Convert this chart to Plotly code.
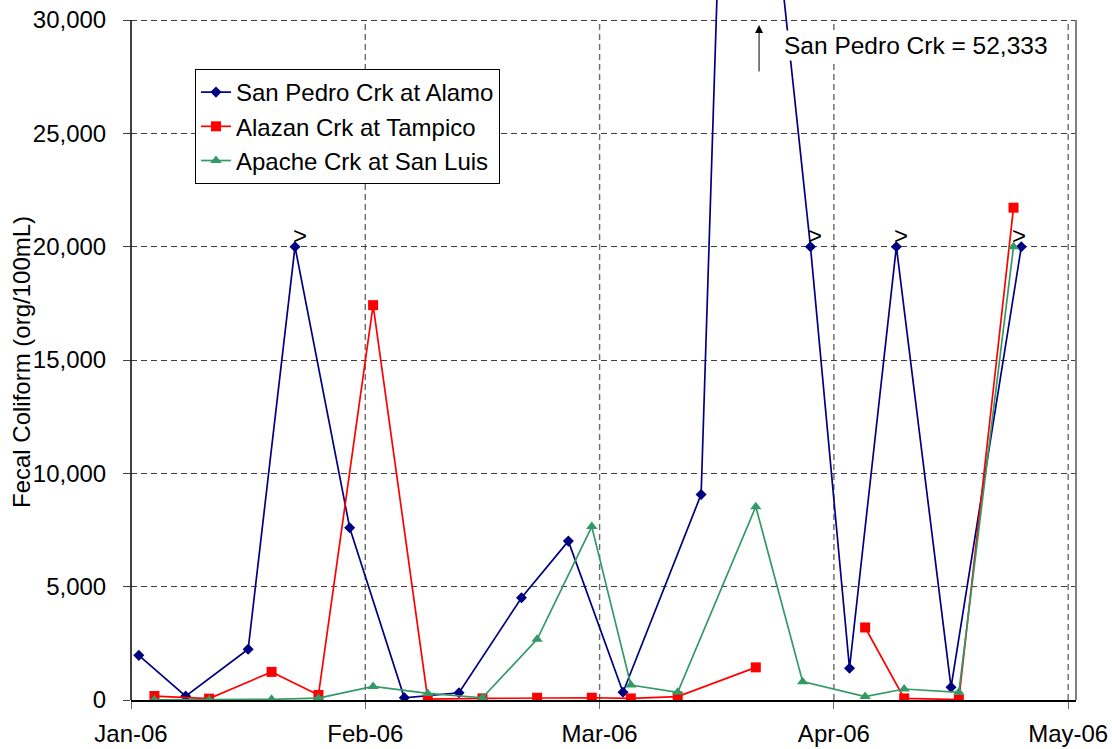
import plotly.graph_objects as go

# ---------------- data ----------------
blue_dates = ["2006-01-03", "2006-01-09", "2006-01-17", "2006-01-23", "2006-01-30",
              "2006-02-06", "2006-02-13", "2006-02-21", "2006-02-27", "2006-03-06",
              "2006-03-16", "2006-03-20", "2006-03-30", "2006-04-04", "2006-04-10",
              "2006-04-17", "2006-04-26"]
blue_values = [1970, 170, 2240, 20000, 7600, 100, 320, 4510, 7010, 340,
               9070, 52333, 20000, 1400, 20000, 560, 20000]

red_dates = ["2006-01-05", "2006-01-12", "2006-01-20", "2006-01-26", "2006-02-02",
             "2006-02-09", "2006-02-16", "2006-02-23", "2006-03-02", "2006-03-07",
             "2006-03-13", "2006-03-23", "2006-03-29", "2006-04-06", "2006-04-11",
             "2006-04-18", "2006-04-25"]
red_values = [175, 60, 1240, 220, 17420, 40, 70, 100, 100, 70,
              150, 1440, None, 3200, 70, 20, 21720]

green_dates = ["2006-01-05", "2006-01-12", "2006-01-20", "2006-01-26", "2006-02-02",
               "2006-02-09", "2006-02-16", "2006-02-23", "2006-03-02", "2006-03-07",
               "2006-03-13", "2006-03-23", "2006-03-29", "2006-04-06", "2006-04-11",
               "2006-04-18", "2006-04-25"]
green_values = [10, 10, 30, 80, 600, 290, 100, 2680, 7650, 660,
                340, 8530, 810, 150, 485, 340, 20000]

# censored (">") results
flag_dates = ["2006-01-23", "2006-03-30", "2006-04-10", "2006-04-25"]
flag_values = [20000, 20000, 20000, 20000]

series_names = ["San Pedro Crk at Alamo", "Alazan Crk at Tampico", "Apache Crk at San Luis"]

x_tick_vals = ["2006-01-02", "2006-02-01", "2006-03-03", "2006-04-02", "2006-05-02"]
x_tick_text = ["Jan-06", "Feb-06", "Mar-06", "Apr-06", "May-06"]
y_tick_vals = [0, 5000, 10000, 15000, 20000, 25000, 30000]

x_range = ["2006-01-02", "2006-05-03"]
y_max_shown = 30000
y_top = 30000 * 700 / 680

FONT = "Arial, Liberation Sans, sans-serif"
FS = 24

fig = go.Figure()
fig.add_trace(go.Scatter(x=blue_dates, y=blue_values, name=series_names[0], mode="lines+markers",
                         line=dict(color="#000080", width=1.7),
                         marker=dict(symbol="diamond", size=8.5, color="#000080")))
fig.add_trace(go.Scatter(x=red_dates, y=red_values, name=series_names[1], mode="lines+markers",
                         connectgaps=False,
                         line=dict(color="#FF0000", width=1.7),
                         marker=dict(symbol="square", size=10, color="#FF0000")))
fig.add_trace(go.Scatter(x=green_dates, y=green_values, name=series_names[2], mode="lines+markers",
                         line=dict(color="#339966", width=1.7),
                         marker=dict(symbol="triangle-up", size=10, color="#339966")))

shapes = []
# vertical gridlines (stop at the 30,000 line)
for tv in x_tick_vals[1:]:
    shapes.append(dict(type="line", xref="x", yref="y", x0=tv, x1=tv, y0=0, y1=y_max_shown,
                       line=dict(color="#6a6a6a", width=1.4, dash="6px,4px"), layer="below"))
# left axis line
shapes.append(dict(type="line", xref="paper", yref="y", x0=0, x1=0, y0=0, y1=y_max_shown,
                   line=dict(color="black", width=1.5)))
# right border
shapes.append(dict(type="line", xref="paper", yref="y", x0=1, x1=1, y0=0, y1=y_max_shown,
                   line=dict(color="#808080", width=2)))

annotations = []
for d, v in zip(flag_dates, flag_values):
    annotations.append(dict(x=d, y=v, xref="x", yref="y", text=">", showarrow=False,
                            xshift=5, yshift=11, font=dict(family=FONT, size=FS, color="black")))
# arrow
annotations.append(dict(x=0.6646, y=0.9643, xref="paper", yref="paper", text="",
                        showarrow=True, ax=0, ay=48, arrowhead=2, arrowsize=1.6, arrowwidth=1,
                        arrowcolor="black"))
annotations.append(dict(x=0.8312, y=0.9343, xref="paper", yref="paper",
                        text="San Pedro Crk = 52,333", showarrow=False, bgcolor="white",
                        xanchor="center", yanchor="middle",
                        font=dict(family=FONT, size=FS + 0.5, color="black")))
annotations.append(dict(x=-0.1153, y=0.4829, xref="paper", yref="paper",
                        text="Fecal Coliform (org/100mL)", showarrow=False, textangle=-90,
                        xanchor="center", yanchor="middle",
                        font=dict(family=FONT, size=FS, color="black")))

fig.update_layout(
    width=1112, height=749,
    margin=dict(l=131, r=36, t=0, b=49),
    paper_bgcolor="white", plot_bgcolor="white",
    font=dict(family=FONT, size=FS, color="black"),
    shapes=shapes, annotations=annotations,
    legend=dict(x=0.0677, y=0.9014, xanchor="left", yanchor="top",
                bgcolor="white", bordercolor="black", borderwidth=1,
                font=dict(family=FONT, size=FS, color="black")),
    xaxis=dict(type="date", range=x_range, tickvals=x_tick_vals, ticktext=x_tick_text,
               showgrid=False, showline=True, linecolor="black", linewidth=2,
               ticks="outside", ticklen=7, tickcolor="#6a6a6a", tickwidth=1.4,
               zeroline=False, ticklabelstandoff=4),
    yaxis=dict(range=[0, y_top], tickvals=y_tick_vals, tickformat=",",
               showgrid=True, gridcolor="#404040", gridwidth=1.2, griddash="6px,4px",
               showline=False, zeroline=False,
               ticks="outside", ticklen=7, tickcolor="#404040", tickwidth=1.2,
               ticklabelstandoff=12),
)

fig.write_html("out.html")
